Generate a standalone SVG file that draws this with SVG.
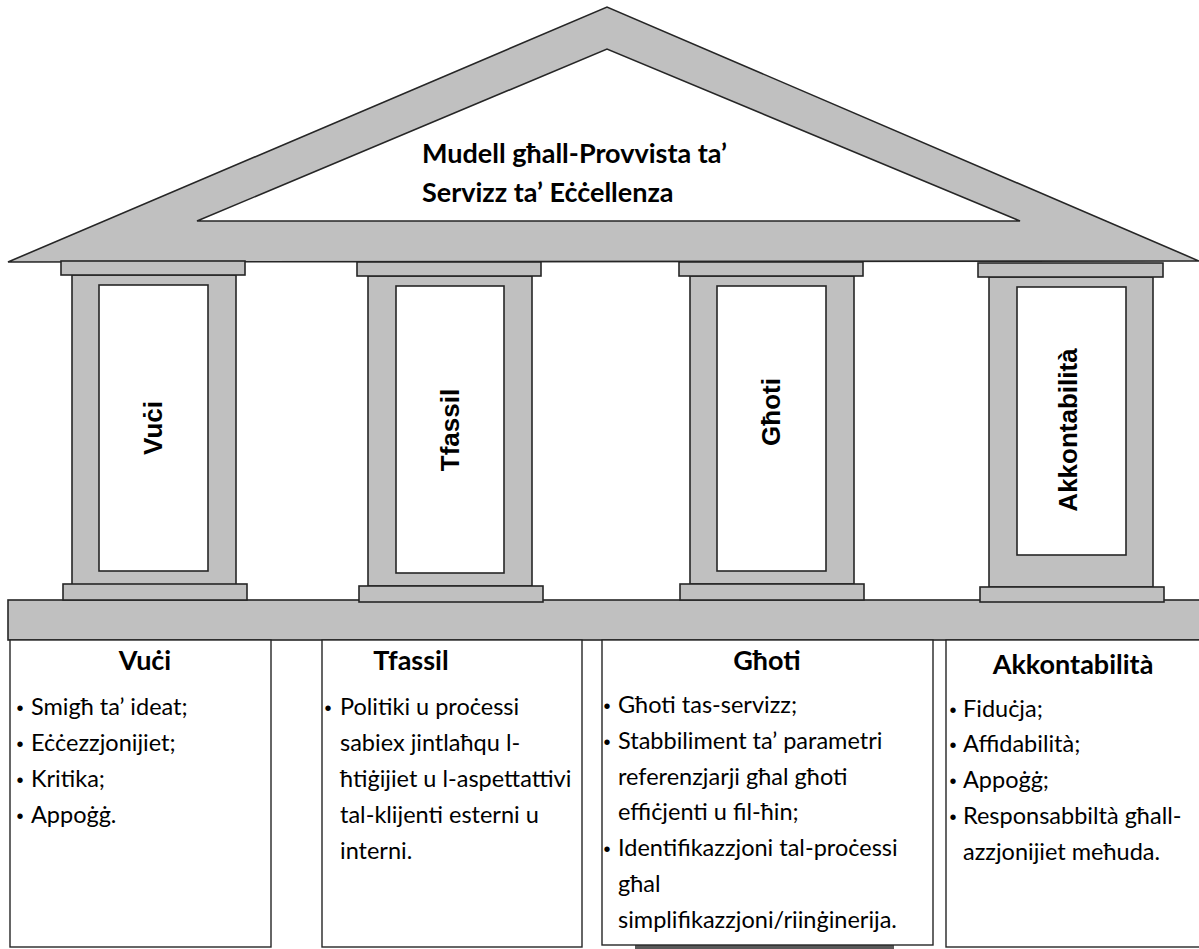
<svg xmlns="http://www.w3.org/2000/svg" width="1199" height="949" viewBox="0 0 1199 949">
<style>
.g{fill:#c0c0c0;stroke:#262626;stroke-width:1.6}
.w{fill:#ffffff;stroke:#262626;stroke-width:1.6}
.box{fill:#ffffff;stroke:#262626;stroke-width:1.4}
.plabel{font-family:"Liberation Sans",Arial,sans-serif;font-weight:bold;font-size:26px;fill:#000;text-anchor:middle}
.roof-t{font-family:Lato,"Liberation Sans",sans-serif;font-weight:bold;font-size:27px;fill:#000}
.title{font-family:Lato,"Liberation Sans",sans-serif;font-weight:bold;font-size:27px;fill:#000;text-anchor:middle}
.body{font-family:Lato,"Liberation Sans",sans-serif;font-size:23.5px;fill:#000}
.bul{font-family:"Liberation Sans",sans-serif;font-size:20px;fill:#000;text-anchor:middle}
</style>
<rect width="1199" height="949" fill="#ffffff"/>
<g id="roof">
<path class="g" fill-rule="evenodd" d="M8,262 L607,7 L1199,261 Z M197,221 L1020,221 L607,49 Z"/>
<text class="roof-t" x="422" y="163">Mudell għall-Provvista ta’</text>
<text class="roof-t" x="422" y="202">Servizz ta’ Eċċellenza</text>
</g>
<g id="base">
<rect class="g" x="8" y="600" width="1195" height="40"/>
</g>
<g id="pillar-1">
<rect class="g" x="72" y="275" width="164" height="310"/>
<rect class="g" x="61" y="261" width="184" height="14"/>
<rect class="w" x="99" y="285" width="109" height="286"/>
<rect class="g" x="63" y="584" width="184" height="16"/>
<text class="plabel" transform="translate(153,428) rotate(-90)" dy="9">Vuċi</text>
</g>
<g id="pillar-2">
<rect class="g" x="368" y="276" width="164" height="310"/>
<rect class="g" x="357" y="262" width="184" height="14"/>
<rect class="w" x="396" y="286" width="108" height="287"/>
<rect class="g" x="359" y="586" width="184" height="16"/>
<text class="plabel" transform="translate(450,430) rotate(-90)" dy="9">Tfassil</text>
</g>
<g id="pillar-3">
<rect class="g" x="690" y="276" width="164" height="308"/>
<rect class="g" x="679" y="262" width="184" height="14"/>
<rect class="w" x="717" y="286" width="109" height="285"/>
<rect class="g" x="680" y="584" width="184" height="16"/>
<text class="plabel" transform="translate(771,412) rotate(-90)" dy="9">Għoti</text>
</g>
<g id="pillar-4">
<rect class="g" x="989" y="277" width="164" height="310"/>
<rect class="g" x="978" y="263" width="185" height="14"/>
<rect class="w" x="1017" y="287" width="109" height="268"/>
<rect class="g" x="980" y="587" width="184" height="15"/>
<text class="plabel" transform="translate(1068,430) rotate(-90)" dy="9">Akkontabilità</text>
</g>
<g id="box-1">
<rect class="box" x="10" y="640" width="261" height="307"/>
<text class="title" x="145" y="670">Vuċi</text>
<text class="bul" x="20" y="715">•</text><text class="body" x="31" y="715">Smigħ ta’ ideat;</text>
<text class="bul" x="20" y="751">•</text><text class="body" x="31" y="751">Eċċezzjonijiet;</text>
<text class="bul" x="20" y="787">•</text><text class="body" x="31" y="787">Kritika;</text>
<text class="bul" x="20" y="823">•</text><text class="body" x="31" y="823">Appoġġ.</text>
</g>
<g id="box-2">
<rect class="box" x="322" y="640" width="260" height="307"/>
<text class="title" x="411" y="670">Tfassil</text>
<text class="bul" x="328" y="715">•</text><text class="body" x="340" y="715">Politiki u proċessi</text>
<text class="body" x="340" y="751">sabiex jintlaħqu l-</text>
<text class="body" x="340" y="787">ħtiġijiet u l-aspettattivi</text>
<text class="body" x="340" y="823">tal-klijenti esterni u</text>
<text class="body" x="340" y="859">interni.</text>
</g>
<g id="box-3">
<rect x="635" y="944" width="259" height="5" fill="#595959"/>
<rect class="box" x="602" y="640" width="331" height="305"/>
<text class="title" x="767" y="670">Għoti</text>
<text class="bul" x="607" y="713">•</text><text class="body" x="618" y="713">Għoti tas-servizz;</text>
<text class="bul" x="607" y="749">•</text><text class="body" x="618" y="749">Stabbiliment ta’ parametri</text>
<text class="body" x="618" y="785">referenzjarji għal għoti</text>
<text class="body" x="618" y="820">effiċjenti u fil-ħin;</text>
<text class="bul" x="607" y="856">•</text><text class="body" x="618" y="856">Identifikazzjoni tal-proċessi</text>
<text class="body" x="618" y="892">għal</text>
<text class="body" x="618" y="928">simplifikazzjoni/riinġinerija.</text>
</g>
<g id="box-4">
<rect class="box" x="946" y="640" width="260" height="307"/>
<text class="title" x="1073" y="674">Akkontabilità</text>
<text class="bul" x="953" y="717">•</text><text class="body" x="963" y="717">Fiduċja;</text>
<text class="bul" x="953" y="752">•</text><text class="body" x="963" y="752">Affidabilità;</text>
<text class="bul" x="953" y="788">•</text><text class="body" x="963" y="788">Appoġġ;</text>
<text class="bul" x="953" y="824">•</text><text class="body" x="963" y="824">Responsabbiltà għall-</text>
<text class="body" x="963" y="860">azzjonijiet meħuda.</text>
</g>
</svg>
